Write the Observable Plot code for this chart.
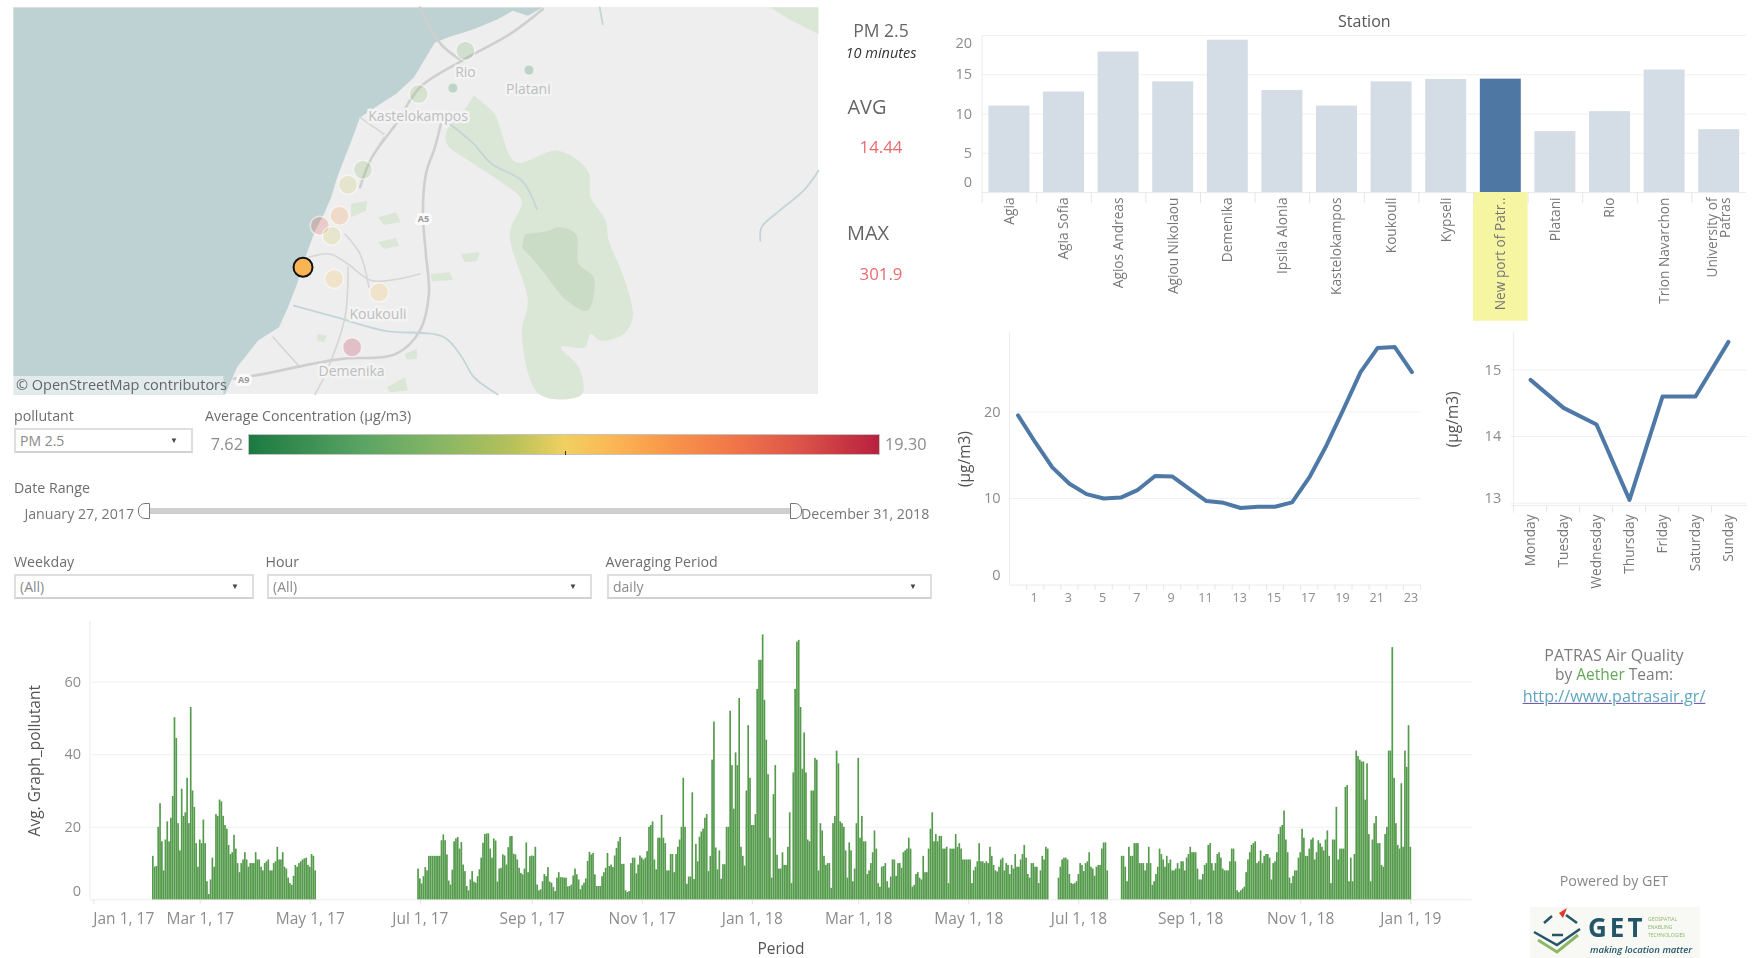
<!DOCTYPE html>
<html>
<head>
<meta charset="utf-8">
<title>PATRAS Air Quality</title>
<script src="https://cdn.jsdelivr.net/npm/d3@7"></script>
<script src="https://cdn.jsdelivr.net/npm/@observablehq/plot@0.6"></script>
<style>
html,body{margin:0;padding:0;background:#fff;width:1755px;height:958px;overflow:hidden}
#root{position:relative;width:1755px;height:958px;font-family:"Open Sans",sans-serif;color:#777;filter:blur(.55px)}
.abs{position:absolute}
.t{position:absolute;white-space:nowrap;line-height:1}
.box{position:absolute;box-sizing:border-box;background:#fff;border:2px solid #dedede;border-bottom-color:#d2d2d2;font-size:14px;color:#8a8a8a;line-height:21px;padding-left:4px}
.box i{position:absolute;top:6px;font-style:normal;font-size:8px;line-height:8px;color:#444}
svg{overflow:visible}
</style>
</head>
<body>
<div id="root"></div>
<script>
// ---------- Station bars ----------
const stations = ["Agia","Agia Sofia","Agios Andreas","Agiou Nikolaou","Demenika","Ipsila Alonia","Kastelokampos","Koukouli","Kypseli","New port of Patr..","Platani","Rio","Trion Navarchon","University of\nPatras"];
const stationValues = [11.0,12.8,17.9,14.1,19.4,13.0,11.0,14.1,14.4,14.44,7.76,10.3,15.6,8.0];
const selectedStation = "New port of Patr..";

// ---------- Hour of day ----------
const hours = [0,1,2,3,4,5,6,7,8,9,10,11,12,13,14,15,16,17,18,19,20,21,22,23];
const hourValues = [19.6,16.5,13.6,11.7,10.5,10,10.1,11,12.6,12.55,11.1,9.7,9.5,8.9,9.05,9.05,9.55,12.4,16.1,20.3,24.6,27.4,27.5,24.6];
const hourTicks = [1,3,5,7,9,11,13,15,17,19,21,23];

// ---------- Weekday ----------
const weekdays = ["Monday","Tuesday","Wednesday","Thursday","Friday","Saturday","Sunday"];
const weekdayValues = [14.85,14.43,14.18,13.05,14.6,14.6,15.42];

// ---------- Daily period series, one array per unbroken run ----------
const runAStart = "2017-02-03";
const runA = [12,9,9.2,20,26.5,16,8,16.5,21.5,16,
22.5,28.5,50.2,44.5,21,13.5,30.5,23,24,33.5,
21,53,30,25.5,15.5,9,16.5,15.5,22,15.5,
5,1.5,5.5,11.5,9,23.5,23,27.5,27,23,
20.5,19.5,15,12.5,13,17.8,14,10,7.5,10,
11,13,11,9,10,10,10,13,11,11,
9,8,10,10.5,11,8,8,10,10.5,14.5,
11,11,13,9,8.5,6,4.5,4,6.5,9.5,
9,10,10.5,11,11.3,11.5,9.5,9,12.5,12,8];
const runBStart = "2017-06-30";
const runB = [8.5,5.8,4.4,6.4,8.9,8,12,12,12,12,
12,12,12,16.3,17.9,16.3,12.4,5.2,4.1,8.2,
16,16.8,17.2,14,15.8,9.6,7.8,3.7,2.5,5.5,
7.8,4.9,4.6,6.4,8.3,11.5,15.6,18,18.2,18.2,
14,11.5,16.8,16.2,4.9,8.5,8.7,12.4,12.1,9.6,
14.4,17.4,17.5,12.6,12.4,11,8.7,7.3,6.9,8.5,
15.7,7.5,11.9,12.1,12,14.5,4.1,2.5,2.8,5,
7,6.4,8.9,4.9,4.6,3.4,2.3,6,7.5,6.1,
6.1,6,6,3.6,3.7,4.1,6.6,8.5,6.9,5.5,
2.8,3.9,4.6,5.8,10.6,13.1,12.4,12.8,6.9,3.7,
3.7,3.7,6.4,7.5,8.7,12.8,9.2,9.6,8.9,12.1,
14.2,16,17.2,9.8,9.8,2.5,2,2.3,10,11.5,
11.5,7.2,9.6,12.1,11.5,11,11.5,13.3,
20,20.5,21.5,11,8.3,17,17,23.3,17,15.5,
8,8,12.5,12.5,7.5,12.5,14.5,16.5,20,33.5,
20,4.3,6.3,6.3,29.5,5.6,15.3,10.5,17.3,18.7,
19.5,22.5,23.5,7.8,12,38.5,49,14.3,8.3,13.5,
5.7,9.7,9.7,20,20,52,37,25,40.5,37,
55.5,14.5,12,9.3,30,48,33.5,20.5,20.5,23.5,
58,66,66,73,55,44,34.5,17,6,29,
37,12.3,8.5,8.5,13,9.5,9.5,14.5,24,4.5,
35,58,71,71.5,53,36,46,35,16.5,16,
30,30,39,38.5,8,21,19,12,9.5,10,
10,3.2,21,23,41,37.5,21.5,21,20,13.5,
6,15.7,13.5,5,8.5,21,39,17,23,16,
16,7,8,10,13,19,14,4.5,3.5,9,
9.2,10,5,3.3,6.3,11,11,6.5,
10,10,8.7,13,13.5,14,17,14,3.5,4,
7,7.5,6,5.5,12,7.5,7.5,14,19.5,24,
16,18,16,17.5,17.5,14,14,14.5,4.5,14,
14,14,18,14.5,15.5,14,11,11,11,11,
11,4.5,8,9,10.5,15.5,10.5,10.5,10,10.5,
10,14.5,12,9.5,8,7.7,9,11,11.5,8,
10,9.5,7,9.5,8.5,12.5,9,9,11,12.5,
15,11.5,7,6,10,10,9,9,4.5,8,
12,11,14.5,14];
const runCStart = "2018-06-20";
const runC = [6,9,11,11.5,11.5,11,7,4.5,4.3,4.5,
5,7,10,9.5,7.8,10,10.5,13,9,8.5,
6.5,9,9.5,9.5,14,15.7,15.7,8];
const runDStart = "2018-07-25";
const runD = [12,12,9,5,14.5,12,12,15.5,15.5,15.5,
10,10,10,8,10,14.5,10,4,5,7,
9,14,12.5,11,9,12,10,11,8,8,
8.5,10,8.5,10.5,10.5,8,11.5,12.5,14.5,13,
13,13,8.5,5.5,5.5,7,9.5,10,15,15.5,
10,8,10,12.5,13,11.5,8.5,8,8,8,
10.5,14,14,10.5,2.5,2,2.5,
3,3.5,7.5,11,13,15,15.5,16,10,10.5,
13.5,10,12,12.5,12.5,11.5,5.5,10,10.5,13,
18,20,20.5,24.5,16.5,13,6,4.5,6.5,8,
8,11.5,13,19.5,17,12,12,14,16.5,17,
11,13,16.3,15.5,14.5,13.5,16.5,19,12,4.5,
16.5,16.5,25.5,11,14,14,14,31,31.5,5,
11.5,5,12.5,41,39.5,38.5,38,38,27.5,37.5,
18,5,16.5,21,23,15.5,15.5,9.5,9,18,
20,41,41,69.5,33.5,21,15,14,32,14.5,
41,36.5,48,14.5];
const periodTickFrom = "2017-01-01", periodTickTo = "2019-01-02";
const periodDomain = ["2016-12-29T21:36Z","2019-02-03T21:36Z"];

// ---------- Colour ramp and map ----------
const rampDomain = [7.62,9.72,11.12,12.52,13.46,14.28,15.33,16.73,17.78,19.30];
const rampColors = ["#1b7a41","#5aa464","#86b664","#b7c15a","#f0d060","#fbb955","#f9984a","#ef7349","#dd5549","#b8203f"];

// map features in the map's own grid (x 22–1365, y 20–1182)
const seaOutline = [[905,20],[880,45],[855,30],[830,55],[790,85],[750,108],[725,125],[710,170],[690,230],[660,280],[625,320],[600,350],[590,400],[575,470],[562,530],[552,590],[540,640],[525,690],[515,740],[505,790],[495,850],[480,920],[465,980],[430,1020],[395,1100],[375,1182],[22,1182],[22,20]];
const forestOutline = [[790,285],[825,340],[835,390],[860,485],[930,450],[980,510],[985,590],[1010,660],[1015,720],[1040,830],[1055,950],[1040,1000],[1000,1020],[985,1000],[975,1040],[935,1040],[965,1100],[970,1182],[900,1182],[870,1000],[880,900],[850,700],[870,600],[840,550],[790,490],[745,430],[745,390],[770,340]];
const forestCore = [[875,700],[915,690],[930,680],[960,700],[965,790],[990,830],[980,930],[945,900],[900,800],[870,740]];
const cornerGreen = [[1285,20],[1365,20],[1365,100],[1320,60]];
const greenPatches = [
 [[630,650],[660,635],[668,665],[640,672]],
 [[630,725],[660,712],[665,735],[640,745]],
 [[718,820],[750,815],[755,838],[720,842]],
 [[768,760],[800,755],[795,782],[775,785]],
 [[585,610],[612,600],[610,630],[585,650]],
 [[530,1000],[545,1005],[540,1025],[528,1020]],
 [[645,1160],[675,1130],[680,1170],[650,1175]],
 [[675,1060],[695,1045],[695,1075],[678,1078]]
];
const rivers = [
 [[750,370],[790,430],[820,490],[870,540],[895,625]],
 [[1365,510],[1340,570],[1300,630],[1270,680],[1268,720]],
 [[1000,20],[1005,70]],
 [[490,915],[560,950],[640,990],[740,1010],[770,1070],[790,1130],[830,1182]]
];
const majorRoads = [
 [[735,370],[725,440],[710,520],[705,640],[710,760],[715,880],[700,990],[660,1060],[570,1075],[520,1090],[440,1120],[390,1135]],
 [[700,20],[735,130],[770,180]],
 [[905,25],[850,100],[770,180],[700,260],[660,370],[620,470],[600,560]]
];
const minorRoads = [
 [[515,770],[550,760],[580,790],[620,840],[700,820]],
 [[575,700],[600,760],[615,860]],
 [[580,800],[575,950],[545,1110],[525,1182]],
 [[455,1010],[500,1100]],
 [[640,400],[600,350]],
 [[640,410],[620,470]]
];
const placeNames = ["Rio","Platani","Kastelokampos","Koukouli","Demenika"];
const placeX = [776,881,697,630,586];
const placeY = [215,265,348,942,1112];
const shieldNames = ["A5","A9"];
const shieldX = [706,406];
const shieldY = [654,1140];
const mapStations = ["Rio","Platani","University of\nPatras","Kastelokampos","Agia","Agia Sofia","Trion Navarchon","Agios Andreas","Ipsila Alonia","Agiou Nikolaou","Koukouli","Demenika","New port of Patr.."];
const mapStationX = [776,882,755,698,605,580,566,533,553,557,632,587,505];
const mapStationY = [150,208,262,280,507,552,645,675,705,835,875,1040,800];

// ---------- Build ----------
const root = document.getElementById("root");
function place(el, left, top){ el.classList.add("abs"); el.style.left = left+"px"; el.style.top = top+"px"; root.appendChild(el); }
function text(str, x, y, size, color, extra){
  const d = document.createElement("div");
  d.className = "t"; d.innerHTML = str;
  d.style.cssText = `left:${x}px;top:${y}px;font-size:${size}px;color:${color};${extra||""}`;
  root.appendChild(d); return d;
}
const base = {fontFamily:"'Open Sans',sans-serif", fontSize:"14.5px", overflow:"visible", background:"transparent"};
const gridC = "#f0f0f0", axisC = "#ececec", tickC = "#8c8c8c", lineC = "#4e79a7";

// ---- Map
const stationTable = mapStations.map((s,i)=>({s, x:mapStationX[i], y:mapStationY[i], v:stationValues[stations.indexOf(s)]}));
const xy = {x:d=>d[0], y:d=>d[1]};
const poly = (pts, fill, curve) => Plot.line(pts,{...xy, fill, stroke:"none", curve:curve||"linear"});
const stroke = (pts, c, w) => Plot.line(pts,{...xy, stroke:c, strokeWidth:w, curve:"catmull-rom"});
const mapPlot = Plot.plot({
  width:805, height:387, margin:0,
  style:{...base, fontSize:"14px", background:"#eeeeee"},
  x:{domain:[22,1365], axis:null}, y:{domain:[1182,20], axis:null},
  color:{type:"linear", domain:rampDomain, range:rampColors, legend:false},
  marks:[
    poly(forestOutline,"#dae6d6","catmull-rom"),
    poly(forestCore,"#cbdcc6","catmull-rom"),
    poly(cornerGreen,"#dae6d6"),
    ...greenPatches.map(p=>poly(p,"#dae6d6")),
    ...rivers.map(p=>stroke(p,"#c3d5d7",1.8)),
    poly(seaOutline,"#bfd2d3"),
    ...minorRoads.map(p=>stroke(p,"#d6d6d6",1.6)),
    ...majorRoads.map(p=>stroke(p,"#cfcfcf",2.6)),
    Plot.text(shieldNames,{x:(d,i)=>shieldX[i], y:(d,i)=>shieldY[i], text:d=>d, fontSize:9, fontWeight:"bold", fill:"#9a9a9a", stroke:"#fafafa", strokeWidth:6}),
    Plot.text(placeNames,{x:(d,i)=>placeX[i], y:(d,i)=>placeY[i], text:d=>d, fill:"#bdbdbd", stroke:"#f3f3f3", strokeWidth:5, fontSize:14}),
    Plot.dot(stationTable.filter(d=>d.v>=9 && d.s!==selectedStation),{x:"x",y:"y",fill:"v",r:9.5,stroke:"#fff",strokeWidth:1.5,fillOpacity:.22,strokeOpacity:.55,title:"s"}),
    Plot.dot(stationTable.filter(d=>d.v<9),{x:"x",y:"y",fill:"v",r:5,stroke:"#fff",strokeWidth:1,fillOpacity:.24,strokeOpacity:.55,title:"s"}),
    Plot.dot(stationTable.filter(d=>d.s===selectedStation),{x:"x",y:"y",fill:"v",r:9.5,stroke:"#111",strokeWidth:2,fillOpacity:1,title:"s"}),
    Plot.rect([0],{x1:22,x2:373,y1:1128,y2:1182,fill:"#fff",fillOpacity:.55}),
    Plot.text(["© OpenStreetMap contributors"],{x:26,y:1156,text:d=>d,textAnchor:"start",fill:"#666",fontSize:14.5})
  ]
});
place(mapPlot,13,7);

// ---- Station bars
const stationTableAll = stations.map((s,i)=>({s, v:stationValues[i]}));
const barPlot = Plot.plot({
  width:825, height:330, marginLeft:51.6, marginRight:9, marginTop:35, marginBottom:138,
  style:base,
  x:{domain:stations, paddingInner:.25, paddingOuter:.125, round:false, axis:null},
  y:{domain:[0,20], axis:null},
  marks:[
    Plot.gridY({ticks:[5,10,15,20], stroke:gridC, strokeOpacity:1}),
    Plot.ruleX([0],{x:()=>stations[0], dx:-27.3, stroke:axisC}),
    Plot.ruleY([0],{stroke:axisC}),
    Plot.barY([selectedStation],{x:d=>d, y1:0, y2:-16.4, fill:"#f5f5a2", insetLeft:-6.8, insetRight:-6.8}),
    Plot.ruleX(stations,{x:d=>d, y1:0, y2:-1.4, dx:-27.3, stroke:"#e6e6e6"}),
    Plot.barY(stationTableAll,{x:"s", y:"v", fill:d=>d.s===selectedStation?"#4e77a3":"#d4dce5", title:"s"}),
    Plot.axisY({ticks:[5,10,15], tickSize:0, tickPadding:10, color:tickC, label:null}),
    Plot.axisY({ticks:[20], tickSize:0, tickPadding:10, dy:8, color:tickC, label:null}),
    Plot.axisY({ticks:[0], tickSize:0, tickPadding:10, dy:-10, color:tickC, label:null}),
    Plot.axisX({tickRotate:-90, tickSize:0, tickPadding:5, color:"#777", fontSize:13.7, label:null, lineAnchor:"middle"}),
    Plot.text(["Station"],{frameAnchor:"top", dy:-20, fill:"#555", fontSize:16, text:d=>d})
  ]
});
place(barPlot,930,0);

// ---- Hours
const hourTable = hours.map((h,i)=>({h, v:hourValues[i]}));
const hourPlot = Plot.plot({
  width:500, height:290, marginLeft:79, marginRight:10, marginTop:12.7, marginBottom:25.5,
  style:base,
  x:{type:"linear", domain:[-0.5,23.5], axis:null},
  y:{domain:[0,29.1], axis:null},
  marks:[
    Plot.gridY({ticks:[10,20], stroke:gridC, strokeOpacity:1}),
    Plot.ruleX([-0.5],{stroke:axisC}),
    Plot.ruleY([0],{stroke:axisC}),
    Plot.ruleX(hours,{x:d=>d+0.5, y1:0, y2:-.6, stroke:"#e6e6e6"}),
    Plot.line(hourTable,{x:"h", y:"v", stroke:lineC, strokeWidth:4}),
    Plot.axisY({ticks:[10,20], tickSize:0, tickPadding:9, color:tickC, label:null}),
    Plot.axisY({ticks:[0], tickSize:0, tickPadding:9, dy:-10, color:tickC, label:null}),
    Plot.axisX({ticks:hourTicks, tickFormat:d=>String(d), tickSize:0, tickPadding:8, dx:-1, color:tickC, fontSize:12.5, label:null}),
    Plot.text(["(µg/m3)"],{frameAnchor:"left", textAnchor:"middle", rotate:-90, dx:-44, fill:"#555", fontSize:15.5, text:d=>d})
  ]
});
place(hourPlot,930,320);

// ---- Weekdays
const weekdayTable = weekdays.map((d,i)=>({d, v:weekdayValues[i]}));
const weekPlot = Plot.plot({
  width:315, height:290, marginLeft:70.7, marginRight:8, marginTop:12.7, marginBottom:105,
  style:base,
  x:{type:"point", domain:weekdays, padding:.5, axis:null},
  y:{domain:[12.965,15.55], axis:null},
  marks:[
    Plot.gridY({ticks:[13,14,15], stroke:gridC, strokeOpacity:1}),
    Plot.ruleX([weekdays[0]],{dx:-16.9, stroke:axisC}),
    Plot.ruleX(weekdays,{x:d=>d, y1:12.965, y2:12.85, dx:-16.9, stroke:"#e6e6e6"}),
    Plot.ruleY([12.965],{stroke:axisC}),
    Plot.line(weekdayTable,{x:"d", y:"v", stroke:lineC, strokeWidth:4}),
    Plot.axisY({ticks:[14,15], tickFormat:d=>String(d), tickSize:0, tickPadding:10, color:tickC, label:null}),
    Plot.axisY({ticks:[13], tickFormat:d=>String(d), tickSize:0, tickPadding:10, dy:-5, color:tickC, label:null}),
    Plot.axisX({tickRotate:-90, tickSize:0, tickPadding:9, color:"#777", fontSize:13.7, label:null, lineAnchor:"middle"}),
    Plot.text(["(µg/m3)"],{frameAnchor:"left", textAnchor:"middle", rotate:-90, dx:-58, fill:"#555", fontSize:15.5, text:d=>d})
  ]
});
place(weekPlot,1440,320);

// ---- Period bars
const expand = (startStr, values) => values.map((v,i)=>{
  const d = d3.utcDay.offset(new Date(startStr), i);
  return {d, x1:new Date(+d-432e5), x2:new Date(+d+432e5), v};
});
const daily = [...expand(runAStart,runA), ...expand(runBStart,runB), ...expand(runCStart,runC), ...expand(runDStart,runD)];
const periodTicks = d3.utcMonth.every(2).range(new Date(periodTickFrom), new Date(periodTickTo));
const fmtPeriod = d3.utcFormat("%b %-d, %y");
const periodPlot = Plot.plot({
  width:1480, height:343, marginLeft:89.5, marginRight:8.5, marginTop:6, marginBottom:58.6,
  style:base,
  x:{type:"utc", domain:periodDomain.map(s=>new Date(s)), axis:null},
  y:{domain:[0,76.7], axis:null},
  marks:[
    Plot.gridY({ticks:[20,40,60], stroke:gridC, strokeOpacity:1}),
    Plot.ruleX([new Date(periodDomain[0])],{stroke:axisC}),
    Plot.ruleY([0],{stroke:axisC}),
    Plot.ruleX(periodTicks,{x:d=>d, y1:0, y2:-1.4, stroke:"#e4e4e4"}),
    Plot.rectY(daily,{x1:"x1", x2:"x2", y:"v", fill:"#559b4c", insetLeft:.06, insetRight:.06}),
    Plot.axisY({ticks:[20,40,60], tickSize:0, tickPadding:9, color:tickC, label:null}),
    Plot.axisY({ticks:[0], tickSize:0, tickPadding:9, dy:-9, color:tickC, label:null}),
    Plot.axisX({ticks:periodTicks.slice(1), tickFormat:fmtPeriod, tickSize:0, tickPadding:13, color:tickC, fontSize:15.5, label:null}),
    Plot.axisX({ticks:periodTicks.slice(0,1), tickFormat:fmtPeriod, tickSize:0, tickPadding:13, dx:30, color:tickC, fontSize:15.5, label:null}),
    Plot.text(["Avg. Graph_pollutant"],{frameAnchor:"left", textAnchor:"middle", rotate:-90, dx:-55, fill:"#555", fontSize:15.5, text:d=>d}),
    Plot.text(["Period"],{frameAnchor:"bottom", dy:54, fill:"#555", fontSize:15.5, text:d=>d})
  ]
});
place(periodPlot,0,615);

// ---- Side texts
const mid = "transform:translate(-50%,-50%);";
text("PM 2.5",881,31,17.5,"#666",mid);
text("10 minutes",881,52.5,14.5,"#333","font-style:italic;"+mid);
text("AVG",867,107,20,"#666",mid);
text("14.44",881,147,16.8,"#ea6a70",mid);
text("MAX",868,233,20,"#666",mid);
text("301.9",881,274,16.8,"#ea6a70",mid);

// ---- Controls
text("pollutant",14,409,14.2,"#6d6d6d");
text("Average Concentration (µg/m3)",205,409,14.2,"#6d6d6d");
text("Date Range",14,481,14.2,"#6d6d6d");
text("Weekday",14,555,14.2,"#6d6d6d");
text("Hour",265.5,555,14.2,"#6d6d6d");
text("Averaging Period",605.5,555,14.2,"#6d6d6d");
function box(label,x,y,w,h,arrow){
  const d=document.createElement("div"); d.className="box";
  d.style.cssText=`left:${x}px;top:${y}px;width:${w}px;height:${h}px`;
  d.innerHTML=`${label}<i style="left:${arrow-x-7}px">▼</i>`;
  root.appendChild(d);
}
box("PM 2.5",14,428,179,25,175);
box("(All)",14,574,240,25,236);
box("(All)",267,574,325,25,574);
box("daily",607,574,325,25,914);
const stops = rampDomain.map((v,i)=>`${rampColors[i]} ${((v-7.62)/(19.30-7.62)*100).toFixed(1)}%`).join(",");
const ramp=document.createElement("div");
ramp.style.cssText=`position:absolute;left:248px;top:434px;width:632px;height:21px;box-sizing:border-box;border:1px solid #c4c4c4;background:linear-gradient(90deg,${stops})`;
root.appendChild(ramp);
const rampTick=document.createElement("div");
rampTick.style.cssText="position:absolute;left:564.5px;top:451px;width:1px;height:4px;background:#333";
root.appendChild(rampTick);
text("7.62",243,444,16.3,tickC,"transform:translate(-100%,-50%);");
text("19.30",885,444,16.3,tickC,"transform:translate(0,-50%);");
text("January 27, 2017",134,514,14.2,"#777","transform:translate(-100%,-50%);");
text("December 31, 2018",801,514,14.2,"#777","transform:translate(0,-50%);");
const track=document.createElement("div");
track.style.cssText="position:absolute;left:150px;top:508px;width:640px;height:6px;background:#cfcfcf";
root.appendChild(track);
[["left:138px;border-radius:7px 0 0 7px"],["left:790px;border-radius:0 7px 7px 0"]].forEach(s=>{
  const h=document.createElement("div");
  h.style.cssText="position:absolute;top:503px;width:12px;height:16px;box-sizing:border-box;background:#fff;border:1.3px solid #777;"+s[0];
  root.appendChild(h);
});

// ---- Credits
text("PATRAS Air Quality",1614,655,16,"#7c7c7c",mid);
text('by <span style="color:#62a957">Aether</span> Team:',1614,675,15.5,"#7c7c7c",mid);
text("http://www.patrasair.gr/",1614,696,16.2,"#5fa6c0",mid+"text-decoration:underline;text-decoration-color:#6a4aa0;");
text("Powered by GET",1614,881,14.3,"#888",mid);
const logo=document.createElement("div");
logo.style.cssText="position:absolute;left:1530px;top:907px;width:170px;height:51px;background:#f8f8f4";
logo.innerHTML=`<svg width="170" height="51" viewBox="0 0 170 51">
<path d="M8 33 L27 45 L48 28" fill="none" stroke="#8cb866" stroke-width="3"/>
<path d="M4 25 L27 38 L50 22" fill="none" stroke="#24566a" stroke-width="2.5"/>
<path d="M14 16 L22 9 M36 8 L47 16 M22 28 L33 28" fill="none" stroke="#24566a" stroke-width="2.5"/>
<path d="M29 6 L37 1 L33 11 Z" fill="#e8352b"/>
<text x="58" y="30" font-size="26" font-weight="700" letter-spacing="3" fill="#24566a" font-family="Open Sans">GET</text>
<text x="118" y="14" font-size="5" fill="#8cb866" font-family="Open Sans">GEOSPATIAL</text>
<text x="118" y="22" font-size="5" fill="#8cb866" font-family="Open Sans">ENABLING</text>
<text x="118" y="30" font-size="5" fill="#8cb866" font-family="Open Sans">TECHNOLOGIES</text>
<text x="60" y="46" font-size="9.5" font-style="italic" font-weight="600" fill="#24566a" font-family="Open Sans">making location matter</text>
</svg>`;
root.appendChild(logo);
</script>
</body>
</html>
